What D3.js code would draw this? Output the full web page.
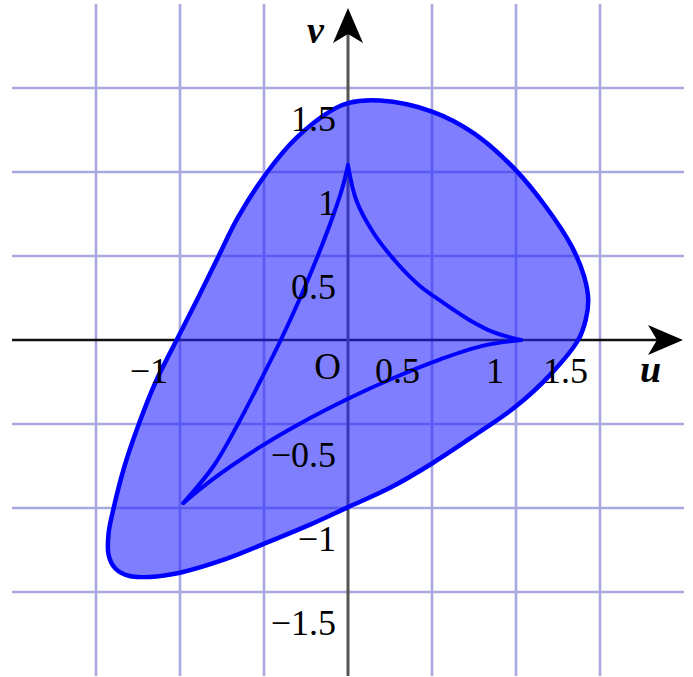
<!DOCTYPE html>
<html>
<head>
<meta charset="utf-8">
<script src="https://cdn.jsdelivr.net/npm/d3@7"></script>
<style>
  html, body { margin: 0; padding: 0; background: #fff; }
  svg { display: block; }
  text { font-family: "Liberation Serif", "Times New Roman", serif; fill: #000; }
</style>
</head>
<body>
<svg id="chart" width="693" height="677"></svg>
<script>
// Grid positions (every 0.5 unit) and axis tick labels
const gridValues = [-1.5, -1, -0.5, 0.5, 1, 1.5];
const uTicks = [-1, 0.5, 1, 1.5];
const uTickLabels = ["\u22121", "0.5", "1", "1.5"];
const vTicks = [1.5, 1, 0.5, -0.5, -1, -1.5];
const vTickLabels = ["1.5", "1", "0.5", "\u22120.5", "\u22121", "\u22121.5"];

// Outer boundary of the shaded region (u, v), traced clockwise from the top
const outerU = [0, 0.19, 0.5, 0.75, 1.0, 1.18, 1.33, 1.405, 1.43, 1.415, 1.37, 1.21, 1.0, 0.75, 0.5, 0.25, 0,
  -0.24, -0.48, -0.73, -1.0, -1.18, -1.3, -1.385, -1.425, -1.425, -1.395, -1.33, -1.245, -1.145,
  -1.02, -0.89, -0.775, -0.655, -0.48, -0.31, -0.1];
const outerV = [1.41, 1.425, 1.36, 1.23, 1.01, 0.79, 0.56, 0.38, 0.24, 0.12, 0.0, -0.2, -0.395, -0.57, -0.735, -0.88, -0.995,
  -1.105, -1.205, -1.305, -1.385, -1.41, -1.405, -1.36, -1.28, -1.15, -1.0, -0.75, -0.5, -0.25,
  0.0, 0.256, 0.49, 0.73, 1.0, 1.2, 1.365];

// Inner three-cusped curve, one arc between each pair of cusps
const arcTopRightU = [0, 0.05, 0.15, 0.29, 0.43, 0.57, 0.73, 0.87, 1.03];
const arcTopRightV = [1.04, 0.83, 0.64, 0.46, 0.32, 0.22, 0.115, 0.045, 0];
const arcRightLowU = [1.03, 0.8, 0.55, 0.25, 0, -0.29, -0.52, -0.8, -0.98];
const arcRightLowV = [0, -0.035, -0.115, -0.235, -0.35, -0.5, -0.635, -0.825, -0.97];
const arcLowTopU = [-0.98, -0.8, -0.655, -0.525, -0.4, -0.285, -0.18, -0.085, -0.035, 0];
const arcLowTopV = [-0.97, -0.75, -0.5, -0.25, 0, 0.25, 0.5, 0.75, 0.9, 1.04];

const svg = d3.select("#chart");
const x = d3.scaleLinear().domain([-2, 2]).range([12, 684]);
const y = d3.scaleLinear().domain([-2, 2]).range([676, 4]);

// Grid
const grid = svg.append("g").attr("stroke", "#a9a9e2").attr("stroke-width", 2.6);
grid.selectAll("line.gv").data(gridValues).join("line")
  .attr("class", "gv")
  .attr("x1", d => x(d)).attr("x2", d => x(d))
  .attr("y1", y(2)).attr("y2", y(-2));
grid.selectAll("line.gh").data(gridValues).join("line")
  .attr("class", "gh")
  .attr("y1", d => y(d)).attr("y2", d => y(d))
  .attr("x1", x(-2)).attr("x2", x(2));

// Axes with arrowheads
const axes = svg.append("g");
axes.append("line")
  .attr("x1", x(-2)).attr("x2", x(2) - 20)
  .attr("y1", y(0)).attr("y2", y(0))
  .attr("stroke", "#111").attr("stroke-width", 2.5);
axes.append("line")
  .attr("x1", x(0)).attr("x2", x(0))
  .attr("y1", y(-2)).attr("y2", y(2) + 20)
  .attr("stroke", "#555").attr("stroke-width", 3);

function arrowPath(tipX, tipY, dir) {
  // dir: "right" or "up"; stealth-style head with a notched back
  const L = 35, W = 15, N = 9;
  if (dir === "right") {
    return `M${tipX},${tipY} L${tipX - L},${tipY - W} L${tipX - L + N},${tipY} L${tipX - L},${tipY + W} Z`;
  }
  return `M${tipX},${tipY} L${tipX - W},${tipY + L} L${tipX},${tipY + L - N} L${tipX + W},${tipY + L} Z`;
}
axes.append("path").attr("d", arrowPath(x(2) - 1, y(0), "right")).attr("fill", "#000");
axes.append("path").attr("d", arrowPath(x(0), y(2) + 4, "up")).attr("fill", "#000");

// Shaded region and its boundary
const line = d3.line().x(d => x(d[0])).y(d => y(d[1]));
const outerPts = d3.zip(outerU, outerV);
svg.append("path")
  .attr("d", line.curve(d3.curveCatmullRomClosed.alpha(0.5))(outerPts))
  .attr("fill", "#2020ff").attr("fill-opacity", 0.58)
  .attr("stroke", "#0000ff").attr("stroke-width", 4.5).attr("stroke-linejoin", "round");

// Inner cusped curve
const arcs = [
  d3.zip(arcTopRightU, arcTopRightV),
  d3.zip(arcRightLowU, arcRightLowV),
  d3.zip(arcLowTopU, arcLowTopV)
];
const arcLine = d3.line().x(d => x(d[0])).y(d => y(d[1])).curve(d3.curveCatmullRom.alpha(0.5));
svg.append("g").selectAll("path").data(arcs).join("path")
  .attr("d", arcLine)
  .attr("fill", "none").attr("stroke", "#0000ff").attr("stroke-width", 4)
  .attr("stroke-linecap", "round");

// Tick labels, set below-left of each tick position
const labels = svg.append("g").attr("font-size", 36).attr("text-anchor", "end");
labels.selectAll("text.ut").data(uTicks).join("text")
  .attr("class", "ut")
  .attr("x", d => x(d) - 12).attr("y", y(0) + 43)
  .text((d, i) => uTickLabels[i]);
labels.selectAll("text.vt").data(vTicks).join("text")
  .attr("class", "vt")
  .attr("x", x(0) - 12).attr("y", d => y(d) + 43)
  .text((d, i) => vTickLabels[i]);
labels.append("text").attr("x", x(0) - 7).attr("y", y(0) + 39).attr("font-size", 37).text("O");

// Axis names
svg.append("text").attr("x", 640).attr("y", 382)
  .attr("font-size", 38).attr("font-style", "italic").attr("font-weight", "bold").text("u");
svg.append("text").attr("x", 307).attr("y", 43)
  .attr("font-size", 38).attr("font-style", "italic").attr("font-weight", "bold").text("v");
</script>
</body>
</html>
